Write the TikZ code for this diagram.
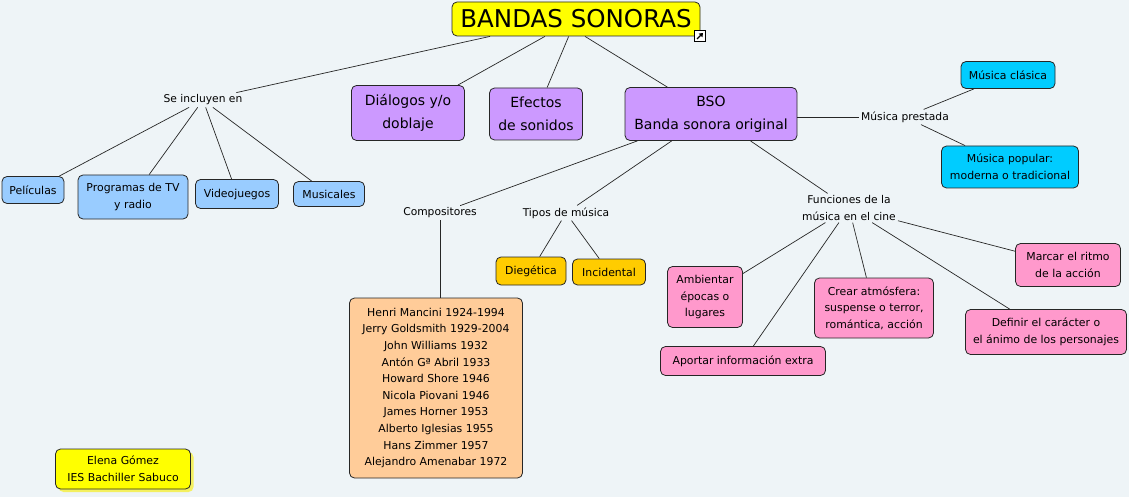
\documentclass[tikz,border=0pt]{standalone}
\usepackage{fontspec}
\setmainfont{DejaVu Sans}
\usetikzlibrary{shadows,arrows.meta}
\definecolor{bg}{HTML}{EEF4F7}
\definecolor{cyellow}{HTML}{FFFF00}
\definecolor{clblue}{HTML}{99CCFF}
\definecolor{cpurple}{HTML}{CC99FF}
\definecolor{ccyan}{HTML}{00CCFF}
\definecolor{corange}{HTML}{FFCC00}
\definecolor{cpeach}{HTML}{FFCC99}
\definecolor{cpink}{HTML}{FF99CC}
\definecolor{cshadow}{HTML}{F4F060}
\begin{document}
\begin{tikzpicture}[x=1pt,y=-1pt,
  box/.style={draw=black!85, rounded corners=5pt, line width=0.8pt, align=center, inner sep=1pt,
    font=\fontsize{10.9}{16.6}\selectfont},
  bigbox/.style={box, font=\fontsize{14}{23}\selectfont},
  lbl/.style={align=center, inner sep=2pt, font=\fontsize{10.7}{16.5}\selectfont},
  conn/.style={draw=black!85, line width=0.7pt}]
\fill[bg] (0,0) rectangle (1129,497);
\useasboundingbox (0,0) rectangle (1129,497);

% title
\node[box, fill=cyellow, minimum width=248, minimum height=34, font=\fontsize{24.5}{28}\selectfont] (title) at (576,19) {BANDAS SONORAS};
\node[draw=black, fill=white, line width=0.6pt, minimum size=11, inner sep=0pt,
  path picture={\draw[line width=1.3pt,-{Triangle[length=3.5pt,width=5pt]}]
    ([shift={(-3pt,-3pt)}]path picture bounding box.center) -- ++(6pt,6pt);}] (icon) at (700,36) {};

% left branch
\node[lbl] (se) at (203,100) {Se incluyen en};
\node[box, fill=clblue, minimum width=62, minimum height=27] (pel) at (33,190) {Películas};
\node[box, fill=clblue, minimum width=110, minimum height=44] (prog) at (133,197) {Programas de TV\\y radio};
\node[box, fill=clblue, minimum width=83, minimum height=29] (video) at (237,194) {Videojuegos};
\node[box, fill=clblue, minimum width=71, minimum height=25] (mus) at (329,194) {Musicales};

% purple
\node[bigbox, fill=cpurple, minimum width=113, minimum height=55] (dial) at (408,113) {Diálogos y/o\\doblaje};
\node[bigbox, fill=cpurple, minimum width=93, minimum height=52] (efec) at (536,114) {Efectos\\de sonidos};
\node[bigbox, fill=cpurple, minimum width=172, minimum height=53] (bso) at (711,114) {BSO\\Banda sonora original};

% musica prestada
\node[lbl] (prest) at (905,117) {Música prestada};
\node[box, fill=ccyan, minimum width=94, minimum height=27] (clas) at (1008,75) {Música clásica};
\node[box, fill=ccyan, minimum width=137, minimum height=42] (pop) at (1010,167) {Música popular:\\moderna o tradicional};

% compositores / tipos
\node[lbl] (comp) at (440,213) {Compositores};
\node[lbl] (tipos) at (566,213) {Tipos de música};
\node[box, fill=corange, minimum width=70, minimum height=28] (dieg) at (531,271) {Diegética};
\node[box, fill=corange, minimum width=73, minimum height=26] (inci) at (609,272) {Incidental};
\node[box, fill=cpeach, minimum width=173, minimum height=180] (lista) at (436,388)
  {Henri Mancini 1924-1994\\Jerry Goldsmith 1929-2004\\John Williams 1932\\Antón Gª Abril 1933\\Howard Shore 1946\\Nicola Piovani 1946\\James Horner 1953\\Alberto Iglesias 1955\\Hans Zimmer 1957\\Alejandro Amenabar 1972};

% funciones
\node[lbl] (func) at (849,208) {Funciones de la\\música en el cine};
\node[box, fill=cpink, minimum width=75, minimum height=61] (amb) at (705,297) {Ambientar\\épocas o\\lugares};
\node[box, fill=cpink, minimum width=165, minimum height=29] (apor) at (743,361) {Aportar información extra};
\node[box, fill=cpink, minimum width=119, minimum height=60] (crear) at (874,308) {Crear atmósfera:\\suspense o terror,\\romántica, acción};
\node[box, fill=cpink, minimum width=105, minimum height=43] (marc) at (1068,265) {Marcar el ritmo\\de la acción};
\node[box, fill=cpink, minimum width=161, minimum height=45] (def) at (1046,332) {Definir el carácter o\\el ánimo de los personajes};

% author
\node[box, fill=cyellow, minimum width=135, minimum height=40,
  drop shadow={fill=cshadow, shadow xshift=3pt, shadow yshift=-3pt, opacity=1}] (autor) at (123,469) {Elena Gómez\\IES Bachiller Sabuco};

% connectors
\draw[conn] ([xshift=-86pt]title.south) -- (se);
\draw[conn] (title) -- (dial);
\draw[conn] (title) -- (efec);
\draw[conn] ([xshift=9pt]title.south) -- (bso);
\draw[conn] (se) -- (pel);
\draw[conn] (se) -- (prog);
\draw[conn] (se) -- (video);
\draw[conn] (se) -- (mus);
\draw[conn] (bso.east |- prest.west) -- (prest.west);
\draw[conn] (prest) -- (clas);
\draw[conn] (prest) -- (pop);
\draw[conn] (bso) -- (comp);
\draw[conn] (bso) -- (tipos);
\draw[conn] (bso) -- (func);
\draw[conn] (comp.south) -- (comp.south |- lista.north);
\draw[conn] (tipos) -- (dieg);
\draw[conn] (tipos) -- (inci);
\draw[conn] (func) -- (amb);
\draw[conn] (func) -- (apor);
\draw[conn] (func) -- (crear);
\draw[conn] (func) -- (marc);
\draw[conn] (func) -- (def);
\end{tikzpicture}
\end{document}
